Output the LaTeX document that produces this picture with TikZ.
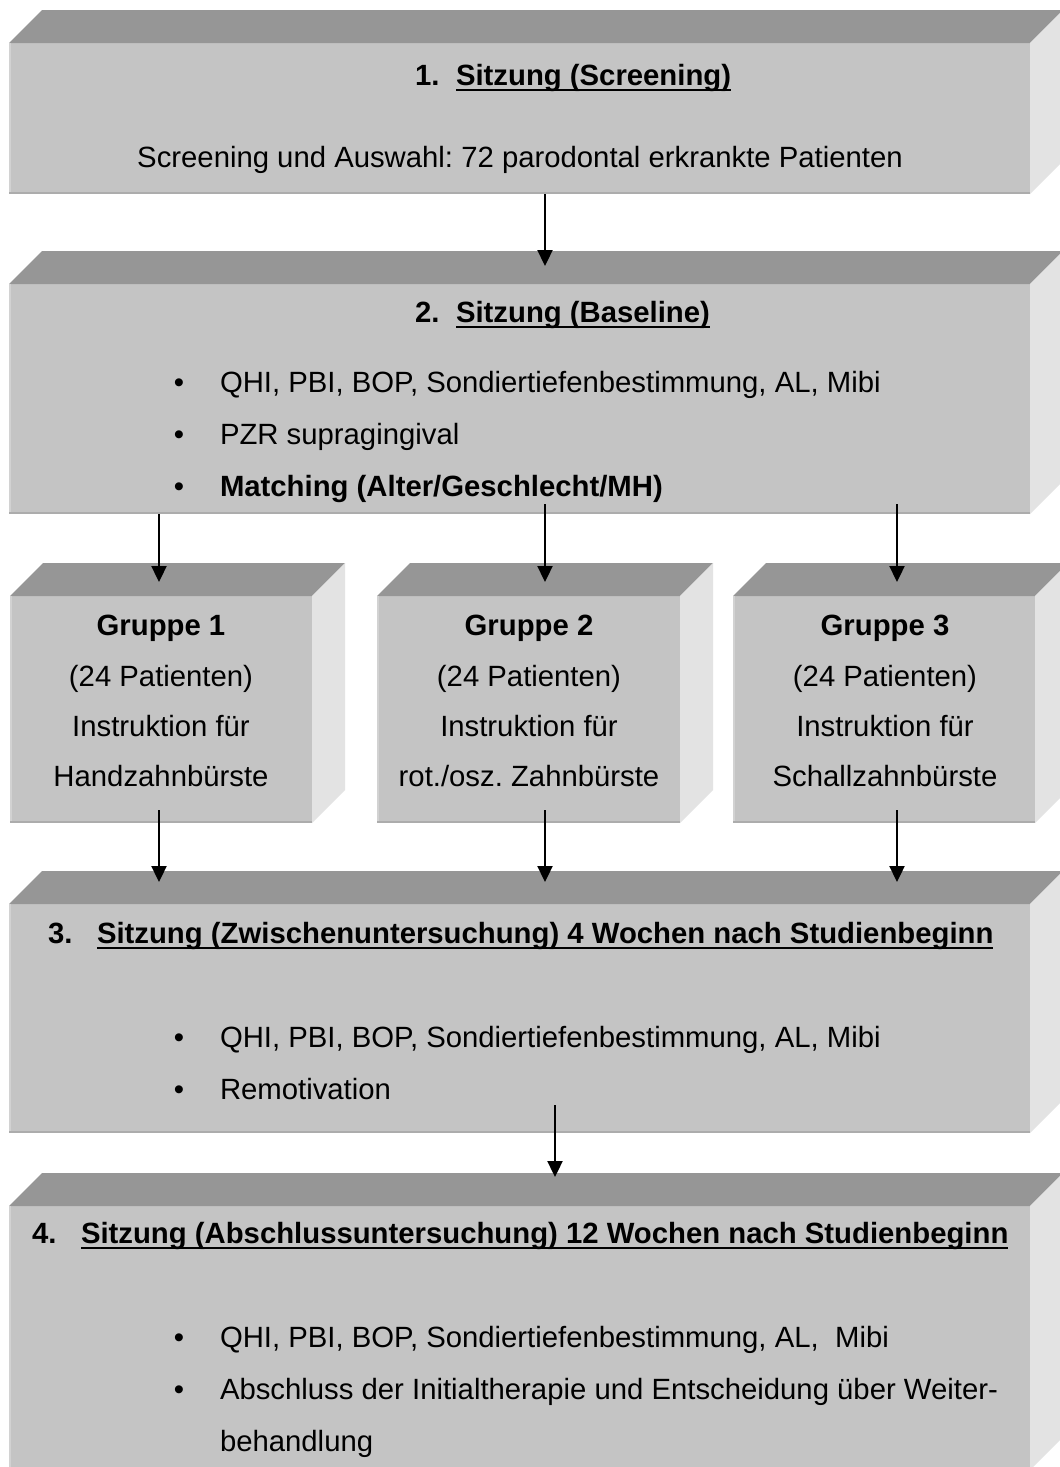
\documentclass[tikz,border=0pt]{standalone}
\usepackage{fontspec}
\setmainfont{Liberation Sans}
\usetikzlibrary{arrows.meta}
\frenchspacing
\definecolor{frontc}{RGB}{196,196,196}
\definecolor{topc}{RGB}{150,150,150}
\definecolor{sidec}{RGB}{227,227,227}
\definecolor{edgedark}{RGB}{172,172,172}
\definecolor{edgelight}{RGB}{210,210,210}
\newcommand\cubesides[1]{%
  \fill[topc] (#1.north west) -- ([shift={(33pt,33pt)}]#1.north west) -- ([shift={(33pt,33pt)}]#1.north east) -- (#1.north east) -- cycle;
  \fill[sidec] (#1.north east) -- ([shift={(33pt,33pt)}]#1.north east) -- ([shift={(33pt,33pt)}]#1.south east) -- (#1.south east) -- cycle;
  \draw[edgelight, line width=2pt] ([xshift=1pt]#1.north west) -- ([xshift=1pt]#1.south west);
  \draw[edgedark, line width=2pt] ([yshift=1pt]#1.south west) -- ([yshift=1pt]#1.south east);
}
\begin{document}
\begin{tikzpicture}[x=1pt,y=-1pt,
  face/.style={fill=frontc, draw=none, inner sep=0, outer sep=0, anchor=north west, rectangle},
  txt/.style={inner sep=0, outer sep=0, anchor=base, font=\fontsize{29.3}{35}\selectfont\frenchspacing},
  txtl/.style={txt, anchor=base west},
  hd/.style={inner sep=0, outer sep=0, anchor=base west, font=\fontsize{29.3}{35}\selectfont\bfseries\frenchspacing},
  arr/.style={line width=2.3pt, -{Triangle[length=16pt,width=15pt]}},
  ul/.style={line width=2.4pt},
]
\clip (0,0) rectangle (1060,1467);
\fill[white] (0,0) rectangle (1060,1467);

% boxes
\node[face, minimum width=1021pt, minimum height=151pt] (b1) at (9,43) {};
\cubesides{b1}
\node[face, minimum width=1021pt, minimum height=230pt] (b2) at (9,284) {};
\cubesides{b2}
\node[face, minimum width=302pt, minimum height=227pt] (g1) at (10,596) {};
\cubesides{g1}
\node[face, minimum width=303pt, minimum height=227pt] (g2) at (377,596) {};
\cubesides{g2}
\node[face, minimum width=302pt, minimum height=227pt] (g3) at (733,596) {};
\cubesides{g3}
\node[face, minimum width=1021pt, minimum height=229pt] (b3) at (9,904) {};
\cubesides{b3}
\node[face, minimum width=1021pt, minimum height=264pt] (b4) at (9,1206) {};
\cubesides{b4}

% box 1 text
\node[hd] (h1n) at (415,85) {1.};
\node[hd] (h1) at (456,85) {Sitzung (Screening)};
\draw[ul] ([yshift=-5pt]h1.base west) -- ([yshift=-5pt]h1.base east);
\node[txt] (s1) at (520,167) {Screening und Auswahl: 72 parodontal erkrankte Patienten};

% box 2 text
\node[hd] (h2n) at (415,322) {2.};
\node[hd] (h2) at (456,322) {Sitzung (Baseline)};
\draw[ul] ([yshift=-5pt]h2.base west) -- ([yshift=-5pt]h2.base east);
\node[txt] (d21) at (179,392) {\textbullet};
\node[txtl] (l21) at (220,392) {QHI, PBI, BOP, Sondiertiefenbestimmung, AL, Mibi};
\node[txt] (d22) at (179,444) {\textbullet};
\node[txtl] (l22) at (220,444) {PZR supragingival};
\node[txt] (d23) at (179,496) {\textbullet};
\node[txtl] (l23) at (220,496) {\bfseries Matching (Alter/Geschlecht/MH)};

% groups
\node[txt] (g1a) at (161,635) {\bfseries Gruppe 1};
\node[txt] (g1b) at (161,686) {(24 Patienten)};
\node[txt] (g1c) at (161,736) {Instruktion für};
\node[txt] (g1d) at (161,786) {Handzahnbürste};
\node[txt] (g2a) at (529,635) {\bfseries Gruppe 2};
\node[txt] (g2b) at (529,686) {(24 Patienten)};
\node[txt] (g2c) at (529,736) {Instruktion für};
\node[txt] (g2d) at (529,786) {rot./osz. Zahnbürste};
\node[txt] (g3a) at (885,635) {\bfseries Gruppe 3};
\node[txt] (g3b) at (885,686) {(24 Patienten)};
\node[txt] (g3c) at (885,736) {Instruktion für};
\node[txt] (g3d) at (885,786) {Schallzahnbürste};

% box 3 text
\node[hd] (h3n) at (48,943) {3.};
\node[hd] (h3) at (97,943) {Sitzung (Zwischenuntersuchung) 4 Wochen nach Studienbeginn};
\draw[ul] ([yshift=-5pt]h3.base west) -- ([yshift=-5pt]h3.base east);
\node[txt] (d31) at (179,1047) {\textbullet};
\node[txtl] (l31) at (220,1047) {QHI, PBI, BOP, Sondiertiefenbestimmung, AL, Mibi};
\node[txt] (d32) at (179,1099) {\textbullet};
\node[txtl] (l32) at (220,1099) {Remotivation};

% box 4 text
\node[hd] (h4n) at (32,1243) {4.};
\node[hd] (h4) at (81,1243) {Sitzung (Abschlussuntersuchung) 12 Wochen nach Studienbeginn};
\draw[ul] ([yshift=-5pt]h4.base west) -- ([yshift=-5pt]h4.base east);
\node[txt] (d41) at (179,1347) {\textbullet};
\node[txtl] (l41) at (220,1347) {QHI, PBI, BOP, Sondiertiefenbestimmung, AL,\hspace{0.28em} Mibi};
\node[txt] (d42) at (179,1399) {\textbullet};
\node[txtl] (l42) at (220,1399) {Abschluss der Initialtherapie und Entscheidung über Weiter-};
\node[txtl] (l43) at (220,1451) {behandlung};

% arrows
\draw[arr] ([xshift=25.5pt]b1.south) -- ([xshift=25.5pt,yshift=18pt]b2.north);
\draw[arr] ([xshift=-360.5pt]b2.south) -- ([xshift=-2pt,yshift=14pt]g1.north);
\draw[arr] ([xshift=25.5pt,yshift=10pt]b2.south) -- ([xshift=16.5pt,yshift=14pt]g2.north);
\draw[arr] ([xshift=377.5pt,yshift=10pt]b2.south) -- ([xshift=13pt,yshift=14pt]g3.north);
\draw[arr] ([xshift=-2pt,yshift=13pt]g1.south) -- ([xshift=-360.5pt,yshift=22pt]b3.north);
\draw[arr] ([xshift=16.5pt,yshift=13pt]g2.south) -- ([xshift=25.5pt,yshift=22pt]b3.north);
\draw[arr] ([xshift=13pt,yshift=13pt]g3.south) -- ([xshift=377.5pt,yshift=22pt]b3.north);
\draw[arr] ([xshift=35.5pt,yshift=28pt]b3.south) -- ([xshift=35.5pt,yshift=29pt]b4.north);
\end{tikzpicture}
\end{document}
